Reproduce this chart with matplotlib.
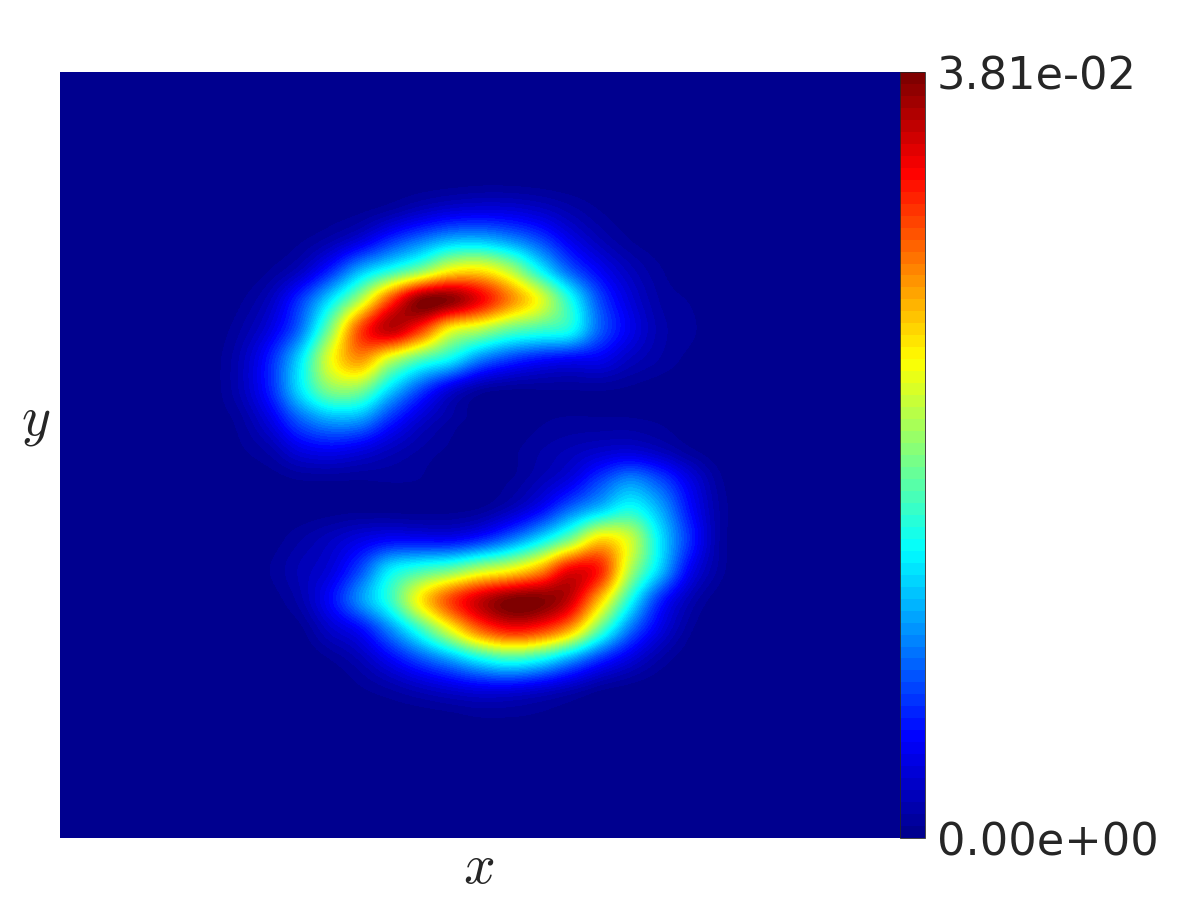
import matplotlib
matplotlib.use('Agg')
import matplotlib.pyplot as plt
from matplotlib.cm import ScalarMappable
from matplotlib.colors import LinearSegmentedColormap, Normalize
import numpy as np

plt.rcParams['mathtext.fontset'] = 'cm'

# value at nodes, as a fraction of the maximum
field_max = 3.81e-02
x_nodes = list(range(210, 751, 30))
y_nodes = list(range(180, 721, 30))
field = [
    [0, 0, 0, 0, 0, 0, 0, 0, .002, .006, .006, .003, 0, 0, 0, 0, 0, 0, 0],
    [0, 0, 0, 0, .003, .01, .03, .06, .085, .095, .09, .07, .04, .015, .003, 0, 0, 0, 0],
    [0, 0, 0, .012, .04, .09, .17, .24, .3, .31, .27, .2, .11, .05, .016, .003, 0, 0, 0],
    [0, 0, .016, .06, .16, .3, .4, .5, .62, .64, .55, .38, .22, .12, .055, .018, .002, 0, 0],
    [0, .012, .06, .18, .35, .55, .8, .98, .98, .88, .74, .6, .4, .2, .09, .03, .014, 0, 0],
    [.002, .03, .1, .24, .5, .8, .93, .82, .62, .55, .47, .43, .39, .22, .11, .04, .02, .002, 0],
    [.005, .05, .16, .35, .6, .72, .57, .45, .37, .25, .18, .14, .12, .11, .06, .03, .01, 0, 0],
    [.005, .05, .16, .35, .5, .5, .34, .2, .09, .03, .015, .015, .016, .017, .012, .004, 0, 0, 0],
    [.005, .025, .1, .22, .29, .28, .17, .08, .03, .006, 0, .013, .018, .018, .018, .012, .002, 0, 0],
    [0, .012, .04, .1, .12, .1, .06, .03, .012, 0, .01, .03, .05, .07, .08, .055, .02, .002, 0],
    [0, 0, .005, .016, .018, .016, .018, .015, .002, .006, .015, .05, .1, .19, .26, .2, .1, .02, .001],
    [0, 0, 0, .003, .008, .011, .009, .006, .008, .02, .06, .13, .24, .33, .4, .3, .14, .03, .002],
    [0, 0, .006, .03, .06, .1, .13, .13, .13, .17, .25, .36, .5, .66, .58, .36, .17, .03, .002],
    [0, 0, .016, .05, .09, .2, .36, .43, .48, .56, .62, .72, .88, .84, .55, .33, .12, .025, 0],
    [0, 0, .006, .04, .13, .27, .42, .63, .8, .92, .99, .99, .92, .68, .4, .17, .05, .004, 0],
    [0, 0, 0, .01, .07, .13, .26, .42, .6, .77, .85, .82, .7, .46, .24, .1, .02, 0, 0],
    [0, 0, 0, 0, .015, .05, .12, .2, .28, .37, .42, .38, .28, .17, .09, .03, .003, 0, 0],
    [0, 0, 0, 0, 0, .012, .03, .055, .08, .1, .1, .08, .05, .018, .005, 0, 0, 0, 0],
    [0, 0, 0, 0, 0, 0, 0, 0, .004, .012, .012, .008, .002, 0, 0, 0, 0, 0, 0],
]
bar_labels = ['0.00e+00', '3.81e-02']

W, H = 1200, 900
# matlab flavour of jet, the stock one has its knots elsewhere
cmap = LinearSegmentedColormap.from_list('mjet', [
    (0, (0, 0, .5625)), (.125, (0, 0, 1)), (.375, (0, 1, 1)),
    (.625, (1, 1, 0)), (.875, (1, 0, 0)), (1, (.5, 0, 0))], N=64)
norm = Normalize(0, field_max)

fig = plt.figure(figsize=(12, 9), dpi=100)
ax = fig.add_axes([60 / W, 1 - 838 / H, 840 / W, 766 / H])
ax.set_facecolor(cmap(0))
half = 15
ax.imshow(np.array(field) * field_max, cmap=cmap, norm=norm, aspect='auto',
          interpolation='catrom', interpolation_stage='data',
          extent=[x_nodes[0] - half, x_nodes[-1] + half, y_nodes[-1] + half, y_nodes[0] - half])
ax.set_xlim(60, 900)
ax.set_ylim(838, 72)
ax.set_xticks([])
ax.set_yticks([])
for s in ax.spines.values():
    s.set_visible(False)

cax = fig.add_axes([900 / W, 1 - 838 / H, 24.5 / W, 766 / H])
cb = fig.colorbar(ScalarMappable(norm=norm, cmap=cmap), cax=cax)
cb.set_ticks([0, field_max])
cb.set_ticklabels(bar_labels)
cb.ax.tick_params(length=0, pad=9, labelsize=32.2, labelcolor='#262626')
cb.outline.set_edgecolor('#262626')
cb.outline.set_linewidth(0.6)

fig.text(479 / W, 1 - 868 / H, '$x$', fontsize=40, color='#262626', ha='center', va='center')
fig.text(36 / W, 1 - 421 / H, '$y$', fontsize=40, color='#262626', ha='center', va='center')

fig.savefig('out.png', dpi=100)
